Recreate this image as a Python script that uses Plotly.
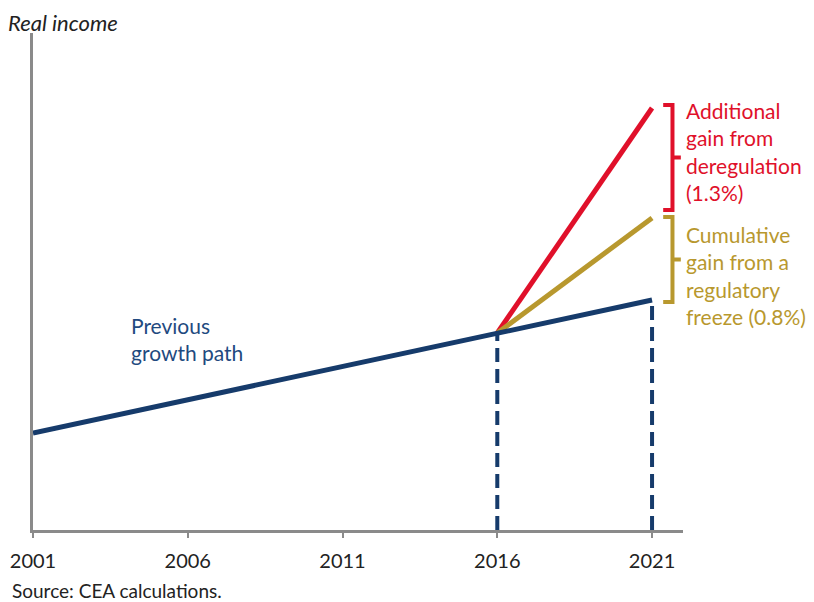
import plotly.graph_objects as go

# Data (arbitrary real-income index)
years_prev = [2001, 2016, 2021]
income_prev = [97, 197, 230]
years_dereg = [2016, 2021]
income_dereg = [197, 422]
years_freeze = [2016, 2021]
income_freeze = [197, 312]
tick_years = [2001, 2006, 2011, 2016, 2021]
tick_labels = ["2001", "2006", "2011", "2016", "2021"]

NAVY = "#163b6b"
RED = "#e0102a"
GOLD = "#b8982e"
GRAY = "#8a8a8a"
FONT = "Lato, 'Noto Sans', sans-serif"

fig = go.Figure()

# dashed drop lines
for yr, val in [(2016, income_prev[1]), (2021, income_prev[2])]:
    fig.add_trace(go.Scatter(x=[yr, yr], y=[0, val], mode="lines",
                             line=dict(color=NAVY, width=4, dash="14px,7px"),
                             hoverinfo="skip", showlegend=False))

fig.add_trace(go.Scatter(x=years_dereg, y=income_dereg, mode="lines",
                         line=dict(color=RED, width=5), showlegend=False))
fig.add_trace(go.Scatter(x=years_freeze, y=income_freeze, mode="lines",
                         line=dict(color=GOLD, width=5), showlegend=False))
fig.add_trace(go.Scatter(x=years_prev, y=income_prev, mode="lines",
                         line=dict(color=NAVY, width=5), showlegend=False))

# brackets
def bracket(y0, y1, color):
    x0, x1, x2 = 2021.36, 2021.66, 2021.93
    ym = (y0 + y1) / 2
    path = (f"M {x0},{y0} L {x1},{y0} L {x1},{y1} L {x0},{y1} "
            f"M {x1},{ym} L {x2},{ym}")
    fig.add_shape(type="path", path=path, xref="x", yref="y",
                  line=dict(color=color, width=4))

bracket(income_dereg[1] + 3, income_freeze[1] + 8, RED)
bracket(income_freeze[1] + 1, income_prev[2] - 2, GOLD)

fig.add_annotation(x=1, y=379, xref="paper", yref="y", xshift=1,
                   xanchor="left", yanchor="middle", align="left", showarrow=False,
                   text="Additional<br>gain from<br>deregulation<br>(1.3%)",
                   font=dict(family=FONT, size=21, color=RED))
fig.add_annotation(x=1, y=255, xref="paper", yref="y", xshift=1,
                   xanchor="left", yanchor="middle", align="left", showarrow=False,
                   text="Cumulative<br>gain from a<br>regulatory<br>freeze (0.8%)",
                   font=dict(family=FONT, size=21, color=GOLD))
fig.add_annotation(x=2004.1, y=191, xref="x", yref="y",
                   xanchor="left", yanchor="middle", align="left", showarrow=False,
                   text="Previous<br>growth path",
                   font=dict(family=FONT, size=21, color="#1f4a80"))

fig.add_annotation(x=0, y=1, xref="paper", yref="paper", xshift=-26, yshift=25,
                   xanchor="left", yanchor="top", showarrow=False, borderpad=0,
                   text="<i>Real income</i>",
                   font=dict(family=FONT, size=22, color="#222222"))
fig.add_annotation(x=0, y=0, xref="paper", yref="paper", xshift=-23, yshift=-60,
                   xanchor="left", yanchor="middle", showarrow=False,
                   text="Source: CEA calculations.",
                   font=dict(family=FONT, size=19, color="#222222"))

fig.update_layout(
    width=806, height=594,
    margin=dict(l=25, r=131, t=25, b=72, autoexpand=False),
    paper_bgcolor="white", plot_bgcolor="white",
    font=dict(family=FONT, size=20, color="#222222"),
    showlegend=False,
    xaxis=dict(range=[2001, 2022], tickvals=tick_years, ticktext=tick_labels,
               showgrid=False, zeroline=False, showline=True, linecolor=GRAY,
               linewidth=3, ticks="outside", ticklen=5, tickcolor=GRAY,
               tickwidth=2, ticklabelstandoff=6, automargin=False,
               tickfont=dict(family=FONT, size=20, color="#222222")),
    yaxis=dict(range=[0, 497], showgrid=False, zeroline=False, showline=True,
               linecolor=GRAY, linewidth=3, showticklabels=False, ticks="",
               automargin=False),
)

fig.write_html("out.html")
